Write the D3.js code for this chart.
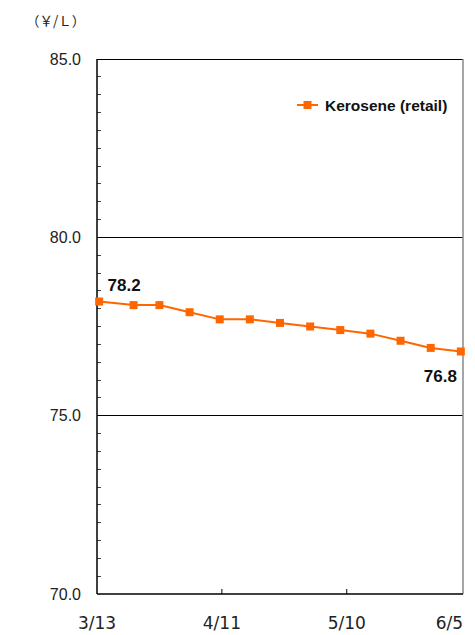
<!DOCTYPE html>
<html><head><meta charset="utf-8">
<script src="https://cdn.jsdelivr.net/npm/d3@7"></script>
<style>
html,body{margin:0;padding:0;background:#fff;}
svg{display:block;}
</style></head>
<body>
<svg id="chart" width="475" height="635"></svg>
<script>
// ---- data ----
const dates = ["2023-03-13","2023-03-21","2023-03-27","2023-04-03","2023-04-10","2023-04-17","2023-04-24","2023-05-01","2023-05-08","2023-05-15","2023-05-22","2023-05-29","2023-06-05"];
const kerosene = [78.2,78.1,78.1,77.9,77.7,77.7,77.6,77.5,77.4,77.3,77.1,76.9,76.8];
const seriesName = "Kerosene (retail)";
const tickDates = ["2023-03-13","2023-04-11","2023-05-10","2023-06-05"];
const tickLabels = ["3/13","4/11","5/10","6/5"];
const yTicks = [70,75,80,85];
const yUnit = "（￥/Ｌ）";

const parse = d3.timeParse("%Y-%m-%d");
const svg = d3.select("#chart");
const L = 97, R = 463, T = 59, B = 594;
const dayStart = parse(dates[0]);
const dayEnd = d3.timeDay.offset(parse(dates[dates.length-1]), 1);
const x = d3.scaleTime().domain([dayStart, dayEnd]).range([L, R]);
const y = d3.scaleLinear().domain([70, 85]).range([B, T]);
const mid = d => d3.timeHour.offset(parse(d), 12);
const data = dates.map((d,i)=>({date: mid(d), v: kerosene[i]}));
const orange = "#FF6600";

// minor y ticks (every 0.5)
const minor = d3.range(70, 85.001, 0.5).filter(v => !yTicks.includes(v));
svg.append("g").selectAll("line").data(minor).join("line")
  .attr("x1", L).attr("x2", L+4).attr("y1", d=>y(d)).attr("y2", d=>y(d))
  .attr("stroke", "#444").attr("stroke-width", 1).attr("shape-rendering","crispEdges");

// gridlines at majors
svg.append("g").selectAll("line").data(yTicks.filter(v=>v>70)).join("line")
  .attr("x1", L).attr("x2", R).attr("y1", d=>y(d)).attr("y2", d=>y(d))
  .attr("stroke", "#000").attr("stroke-width", 1).attr("shape-rendering","crispEdges");

// right border
svg.append("line").attr("x1", R).attr("x2", R).attr("y1", T).attr("y2", B)
  .attr("stroke", "#888").attr("stroke-width", 1.5);

// y axis line
svg.append("line").attr("x1", L).attr("x2", L).attr("y1", T).attr("y2", B)
  .attr("stroke", "#000").attr("stroke-width", 1.5);
// x axis line
svg.append("line").attr("x1", L).attr("x2", R).attr("y1", B).attr("y2", B)
  .attr("stroke", "#000").attr("stroke-width", 1.5);

// x ticks (inner ones)
svg.append("g").selectAll("line").data(tickDates.slice(1, -1)).join("line")
  .attr("x1", d=>x(parse(d))).attr("x2", d=>x(parse(d))).attr("y1", B).attr("y2", B-5)
  .attr("stroke", "#000").attr("stroke-width", 1);

// y tick labels
svg.append("g").selectAll("text").data(yTicks).join("text")
  .attr("x", L-16).attr("y", d=>y(d)).attr("dy", "0.36em")
  .attr("text-anchor","end")
  .attr("font-family","'Liberation Sans', Arial, sans-serif").attr("font-size", 16)
  .attr("fill","#222").text(d=>d.toFixed(1));

// x tick labels
svg.append("g").selectAll("text").data(tickDates).join("text")
  .attr("x", (d,i)=> i === tickDates.length-1 ? R : x(parse(d)))
  .attr("y", 629)
  .attr("text-anchor", (d,i)=> i === tickDates.length-1 ? "end" : "middle")
  .attr("font-family","'DejaVu Sans', sans-serif").attr("font-size", 17)
  .attr("fill","#222").text((d,i)=>tickLabels[i]);

// unit label
svg.append("text").attr("x", 26).attr("y", 26)
  .attr("font-family","'Noto Sans CJK JP', sans-serif").attr("font-size", 13.5)
  .attr("fill","#222").text(yUnit);

// line
const line = d3.line().x(d=>x(d.date)).y(d=>y(d.v));
svg.append("path").datum(data).attr("d", line)
  .attr("fill","none").attr("stroke", orange).attr("stroke-width", 2);

// markers
svg.append("g").selectAll("rect").data(data).join("rect")
  .attr("x", d=>x(d.date)-4).attr("y", d=>y(d.v)-4)
  .attr("width", 8).attr("height", 8).attr("fill", orange);

// data labels (first and last)
const first = data[0], last = data[data.length-1];
svg.append("text").attr("x", x(first.date)+25).attr("y", y(first.v)-11)
  .attr("text-anchor","middle")
  .attr("font-family","'Liberation Sans', Arial, sans-serif").attr("font-weight","bold").attr("font-size", 17)
  .attr("fill","#111").text(first.v.toFixed(1));
svg.append("text").attr("x", x(last.date)-4).attr("y", y(last.v)+31)
  .attr("text-anchor","end")
  .attr("font-family","'Liberation Sans', Arial, sans-serif").attr("font-weight","bold").attr("font-size", 17)
  .attr("fill","#111").text(last.v.toFixed(1));

// legend
const lg = svg.append("g").attr("transform","translate(297,105)");
lg.append("line").attr("x1",0).attr("x2",21).attr("y1",0).attr("y2",0)
  .attr("stroke", orange).attr("stroke-width", 2);
lg.append("rect").attr("x", 6.5).attr("y", -4).attr("width", 8).attr("height", 8).attr("fill", orange);
lg.append("text").attr("x", 28).attr("y", 6)
  .attr("font-family","'Liberation Sans', Arial, sans-serif").attr("font-weight","bold").attr("font-size", 15.5)
  .attr("fill","#111").text(seriesName);
</script>
</body></html>
